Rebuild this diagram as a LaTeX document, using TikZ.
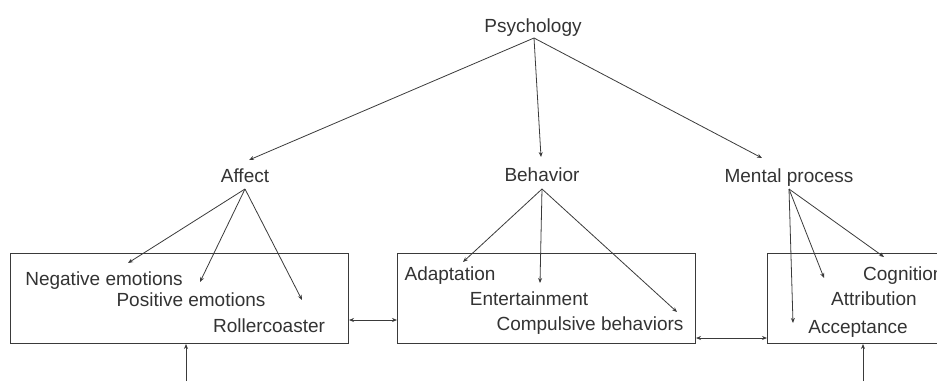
\documentclass[tikz,border=0pt]{standalone}
\usepackage{fontspec}
\setmainfont{Liberation Sans}
\usetikzlibrary{arrows.meta}
\definecolor{ink}{HTML}{3A3A3A}
\definecolor{txt}{HTML}{333333}
\begin{document}
\begin{tikzpicture}[x=1pt,y=-1pt,
  lbl/.style={anchor=base,inner sep=0pt,text=txt,font=\fontsize{19}{22}\selectfont},
  boxnode/.style={draw=ink,line width=1pt,inner sep=0pt,anchor=north west},
  link/.style={draw=ink,line width=0.8pt,-{Stealth[length=5pt,width=4pt]}},
  dlink/.style={draw=ink,line width=0.8pt,{Stealth[length=5pt,width=4pt]}-{Stealth[length=5pt,width=4pt]}}]
\useasboundingbox (0,0) rectangle (937,381);
% boxes
\node[boxnode,minimum width=338pt,minimum height=90pt] (b1) at (10,253) {};
\node[boxnode,minimum width=298pt,minimum height=90pt] (b2) at (397,253) {};
\node[boxnode,minimum width=200pt,minimum height=90pt] (b3) at (767,253) {};
% top labels
\node[lbl] (psy) at (533,32) {Psychology};
\node[lbl] (aff) at (245,182) {Affect};
\node[lbl] (beh) at (542,181) {Behavior};
\node[lbl] (men) at (789,182) {Mental process};
% box texts
\node[lbl] (neg) at (104,285) {Negative emotions};
\node[lbl] (pos) at (191,306) {Positive emotions};
\node[lbl] (rol) at (269,332) {Rollercoaster};
\node[lbl] (ada) at (450,280) {Adaptation};
\node[lbl] (ent) at (529,305) {Entertainment};
\node[lbl] (com) at (590,330) {Compulsive behaviors};
\node[lbl,anchor=base west] (cog) at (863,280) {Cognition};
\node[lbl] (att) at (874,305) {Attribution};
\node[lbl] (acc) at (858,333) {Acceptance};
% connector points
\coordinate (psyo) at (534,38);
\coordinate (affi) at (249,160);
\coordinate (behi) at (541,157);
\coordinate (meni) at (762,158);
\coordinate (affo) at (245,189);
\coordinate (beho) at (542,189);
\coordinate (meno) at (789,189);
\coordinate (negi) at (128,263);
\coordinate (posi) at (200,282);
\coordinate (roli) at (302,300);
\coordinate (adai) at (463,262);
\coordinate (enti) at (540,283);
\coordinate (comi) at (677,312);
\coordinate (cogi) at (884,257);
\coordinate (atti) at (824,278);
\coordinate (acci) at (793,323);
\coordinate (bot1) at (186,381);
\coordinate (bot3) at (863,381);
% tree connectors
\draw[link] (psyo) -- (affi);
\draw[link] (psyo) -- (behi);
\draw[link] (psyo) -- (meni);
\draw[link] (affo) -- (negi);
\draw[link] (affo) -- (posi);
\draw[link] (affo) -- (roli);
\draw[link] (beho) -- (adai);
\draw[link] (beho) -- (enti);
\draw[link] (beho) -- (comi);
\draw[link] (meno) -- (cogi);
\draw[link] (meno) -- (atti);
\draw[link] (meno) -- (acci);
% box connectors
\draw[dlink] (b1.east |- 0,320) -- (b2.west |- 0,320);
\draw[dlink] (b2.east |- 0,338) -- (b3.west |- 0,338);
\draw[link] (bot1) -- (bot1 |- b1.south);
\draw[link] (bot3) -- (bot3 |- b3.south);
\end{tikzpicture}
\end{document}
